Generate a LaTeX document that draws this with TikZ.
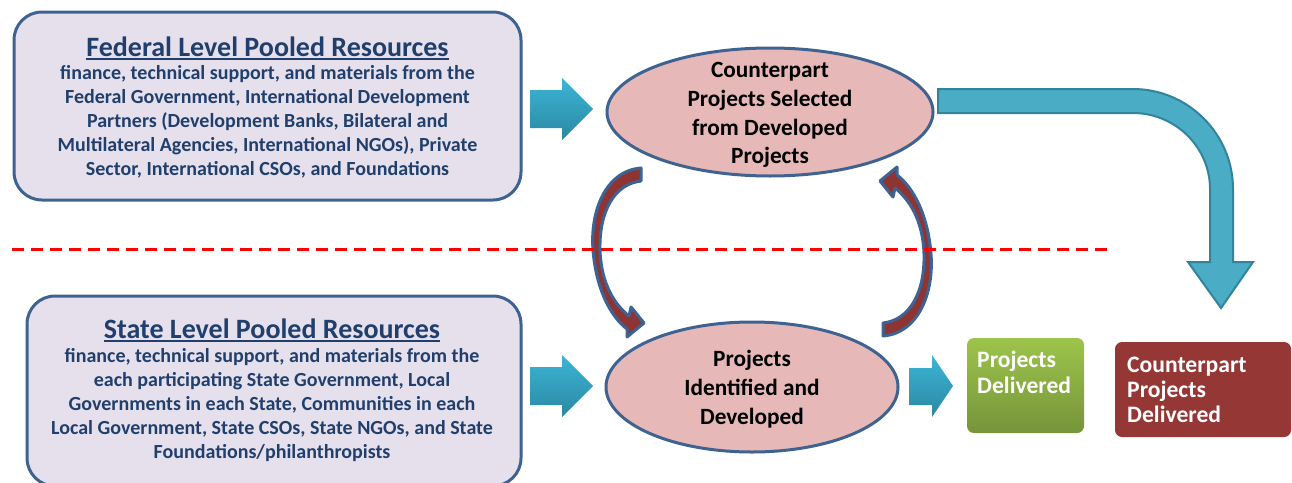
\documentclass[tikz,border=0pt]{standalone}
\usepackage{fontspec}
\setmainfont{Carlito}
\usetikzlibrary{shapes.geometric}
\definecolor{boxfill}{HTML}{E5E0EC}
\definecolor{boxline}{HTML}{3F6391}
\definecolor{navy}{HTML}{203F6C}
\definecolor{ellfill}{HTML}{E6B9B8}
\definecolor{ellline}{HTML}{3F6391}
\definecolor{arrtop}{HTML}{3DB5D6}
\definecolor{arrbot}{HTML}{2A88A2}
\definecolor{bigfill}{HTML}{4BACC6}
\definecolor{bigline}{HTML}{31849B}
\definecolor{crvred}{HTML}{8E3432}
\definecolor{crvblue}{HTML}{3D6394}
\definecolor{dashred}{HTML}{FF0000}
\definecolor{gtop}{HTML}{9DC44C}
\definecolor{gbot}{HTML}{76943A}
\definecolor{redbox}{HTML}{953735}
\tikzset{
 resbox/.style={draw=boxline, line width=3pt, fill=boxfill, rounded corners=28pt, inner sep=0pt},
 boxtitle/.style={text=navy, font=\fontsize{28}{32}\selectfont\bfseries, inner sep=0pt, anchor=base},
 boxbody/.style={text=navy, font=\fontsize{20}{24}\selectfont\bfseries, align=center, inner sep=0pt, anchor=north},
 projell/.style={ellipse, draw=ellline, line width=3pt, fill=ellfill, inner sep=0pt},
 elltext/.style={align=center, font=\fontsize{23.3}{28.7}\selectfont\bfseries, inner sep=0pt},
 smallarr/.style={top color=arrtop, bottom color=arrbot, draw=none},
 crvarr/.style={fill=crvred, draw=crvblue, line width=3pt, line join=round},
 bigarr/.style={fill=bigfill, draw=bigline, line width=2pt, line join=miter},
 outbox/.style={rounded corners=7pt, inner sep=0pt},
 whitetxt/.style={text=white, font=\fontsize{23.6}{26}\selectfont\bfseries, inner sep=0pt, anchor=base west},
 divider/.style={draw=dashred, line width=3pt, dash pattern=on 12pt off 7pt},
 uline/.style={draw=navy, line width=2pt}
}
\begin{document}
\begin{tikzpicture}[x=1pt,y=-1pt]
\useasboundingbox (0,0) rectangle (1292,482);
\clip (0,0) rectangle (1292,482);
\fill[white] (0,0) rectangle (1292,482);

% resource boxes
\node[resbox, minimum width=507pt, minimum height=188pt] (fed) at (267.5,106) {};
\node[boxtitle] (fedtitle) at (267.5,56) {Federal Level Pooled Resources};
\draw[uline] ([yshift=-3pt]fedtitle.base west) -- ([yshift=-3pt]fedtitle.base east);
\node[boxbody] (fedbody) at (267.5,65) {finance, technical support, and materials from the\\Federal Government, International Development\\Partners (Development Banks, Bilateral and\\Multilateral Agencies, International NGOs), Private\\Sector, International CSOs, and Foundations};

\node[resbox, minimum width=494pt, minimum height=190pt] (state) at (274,391) {};
\node[boxtitle] (statetitle) at (272,338) {State Level Pooled Resources};
\draw[uline] ([yshift=-3pt]statetitle.base west) -- ([yshift=-3pt]statetitle.base east);
\node[boxbody] (statebody) at (272,348) {finance, technical support, and materials from the\\each participating State Government, Local\\Governments in each State, Communities in each\\Local Government, State CSOs, State NGOs, and State\\Foundations/philanthropists};

% small block arrows
\shade[smallarr] (530,90) -- (562,90) -- (562,78) -- (593,109) -- (562,140) -- (562,128) -- (530,128) -- cycle;
\shade[smallarr] (530,367) -- (562,367) -- (562,355) -- (593,386) -- (562,417) -- (562,405) -- (530,405) -- cycle;
\shade[smallarr] (909,368) -- (932,368) -- (932,355) -- (953,386) -- (932,417) -- (932,405) -- (909,405) -- cycle;

% ellipses
\node[projell, minimum width=326pt, minimum height=128pt] (cps) at (770,112) {};
\node[elltext] (cpstext) at ([yshift=-3pt]cps.center) {Counterpart\\Projects Selected\\from Developed\\Projects};
\node[projell, minimum width=292pt, minimum height=130pt] (pid) at (752,387) {};
\node[elltext] (pidtext) at ([yshift=-2pt]pid.center) {Projects\\Identified and\\Developed};

% curved arrows
\filldraw[crvarr] (641,168) .. controls (605,171) and (590,212) .. (593,250) .. controls (596,288) and (610,316) .. (627,329) -- (627,337) -- (644,323) -- (631,307) -- (629,316) .. controls (615,305) and (601,284) .. (600,250) .. controls (599,212) and (614,184) .. (641,181) -- cycle;
\begin{scope}[rotate around={180:(762,252)}]
\filldraw[crvarr] (641,168) .. controls (605,171) and (590,212) .. (593,250) .. controls (596,288) and (610,316) .. (627,329) -- (627,337) -- (644,323) -- (631,307) -- (629,316) .. controls (615,305) and (601,284) .. (600,250) .. controls (599,212) and (614,184) .. (641,181) -- cycle;
\end{scope}

% big bent arrow
\filldraw[bigarr] (938,89) -- (1133,89) .. controls (1188,89) and (1233,134) .. (1233,189) -- (1233,262) -- (1253,262) -- (1221,308) -- (1188,262) -- (1210,262) -- (1210,189) .. controls (1210,147) and (1175,113) .. (1133,113) -- (938,113) -- cycle;

% divider
\coordinate (dl) at (12,249);
\coordinate (dr) at (1108,249);
\draw[divider] (dl) -- (dr);

% delivered boxes
\node[outbox, top color=gtop, bottom color=gbot, minimum width=117pt, minimum height=95pt] (pd) at (1025.5,385.5) {};
\node[whitetxt] (pd1) at (977,367) {Projects};
\node[whitetxt] (pd2) at (977,393) {Delivered};
\node[outbox, fill=redbox, minimum width=176pt, minimum height=95pt] (cpd) at (1203,389.5) {};
\node[whitetxt] (cpd1) at (1127,372) {Counterpart};
\node[whitetxt] (cpd2) at (1127,397) {Projects};
\node[whitetxt] (cpd3) at (1127,422) {Delivered};
\end{tikzpicture}
\end{document}
